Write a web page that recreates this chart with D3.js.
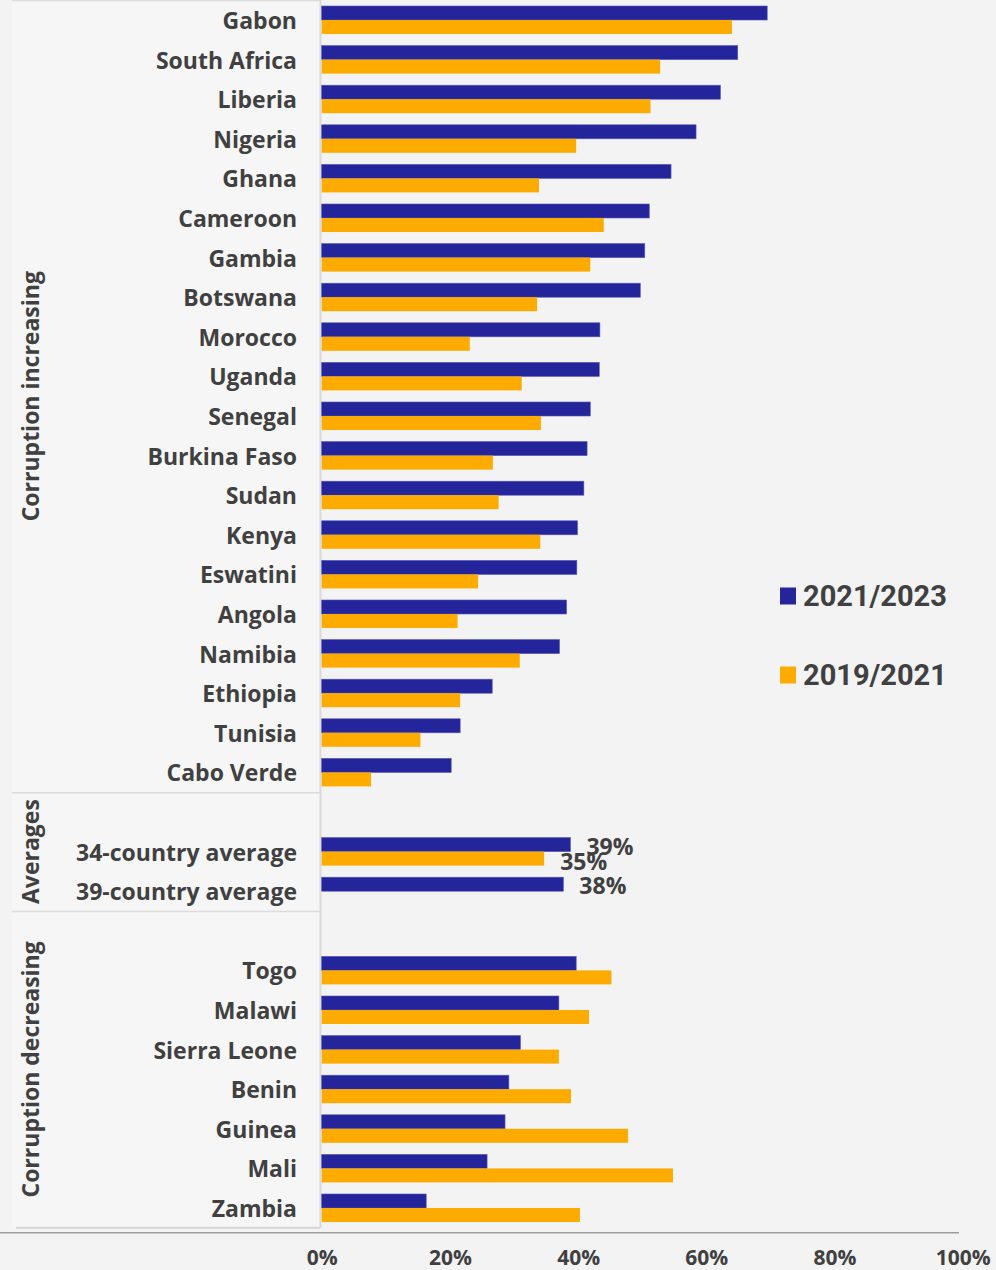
<!DOCTYPE html>
<html>
<head>
<meta charset="utf-8">
<script src="https://cdn.jsdelivr.net/npm/d3@7"></script>
<style>
  html, body { margin: 0; padding: 0; background: #f3f3f3; }
  svg { display: block; }
</style>
</head>
<body>
<svg id="chart" width="996" height="1270"></svg>
<script>
// ---- Data ----
const increasingCountries = ["Gabon","South Africa","Liberia","Nigeria","Ghana","Cameroon","Gambia","Botswana","Morocco","Uganda","Senegal","Burkina Faso","Sudan","Kenya","Eswatini","Angola","Namibia","Ethiopia","Tunisia","Cabo Verde"];
const increasing2123 = [69.5,64.9,62.2,58.4,54.5,51.1,50.4,49.7,43.4,43.3,41.9,41.4,40.9,39.9,39.8,38.2,37.1,26.6,21.6,20.2];
const increasing1921 = [64.0,52.8,51.3,39.7,33.9,44.0,41.9,33.6,23.1,31.2,34.2,26.7,27.6,34.1,24.4,21.2,30.9,21.6,15.4,7.7];

const averageLabels = ["34-country average","39-country average"];
const average2123 = [38.8, 37.7];
const average1921 = [34.7, null];
const average2123Text = ["39%","38%"];
const average1921Text = ["35%", null];

const decreasingCountries = ["Togo","Malawi","Sierra Leone","Benin","Guinea","Mali","Zambia"];
const decreasing2123 = [39.7,37.0,31.0,29.2,28.6,25.8,16.3];
const decreasing1921 = [45.2,41.7,37.0,38.9,47.8,54.8,40.3];

const groupNames = ["Corruption increasing","Averages","Corruption decreasing"];
const seriesNames = ["2021/2023","2019/2021"];
const seriesColors = ["#25259b","#feab00"];
const tickValues = [0,20,40,60,80,100];
const tickLabels = ["0%","20%","40%","60%","80%","100%"];

// ---- Build rows ----
const rows = [];
increasingCountries.forEach((c,i)=>rows.push({key:c,label:c,v1:increasing2123[i],v2:increasing1921[i]}));
rows.push({key:"_gap1",label:"",v1:null,v2:null});
averageLabels.forEach((c,i)=>rows.push({key:c,label:c,v1:average2123[i],v2:average1921[i],t1:average2123Text[i],t2:average1921Text[i]}));
rows.push({key:"_gap2",label:"",v1:null,v2:null});
decreasingCountries.forEach((c,i)=>rows.push({key:c,label:c,v1:decreasing2123[i],v2:decreasing1921[i]}));

const svg = d3.select("#chart");
const labelFont = "'Open Sans', 'Lato', sans-serif";
const textColor = "#404040";
const labelSize = 23;

const x = d3.scaleLinear().domain([0,100]).range([321.7, 962.7]);
const y = d3.scaleBand().domain(rows.map(r=>r.key)).range([0.2, 1227.8]);
const step = y.step();
const barH = 14;

// ---- Group panel lines ----
const panelLeft = 12, panelRight = 320;
const sep1 = y("_gap1"), sep2 = y("_gap2"), bottom = y.range()[1];
const groupBounds = [[y.range()[0], sep1],[sep1, sep2],[sep2, bottom]];

const panel = svg.append("g");
panel.append("rect").attr("x", panelLeft).attr("y", 0).attr("width", panelRight-panelLeft).attr("height", bottom)
  .attr("fill", "#f6f6f6");
[0, sep1, sep2].forEach(v=>{
  panel.append("line").attr("x1", panelLeft).attr("x2", panelRight).attr("y1", v+0.5).attr("y2", v+0.5)
    .attr("stroke", "#dcdcdc").attr("stroke-width", 1.5);
});
panel.append("line").attr("x1", panelLeft+4).attr("x2", panelRight).attr("y1", bottom).attr("y2", bottom)
  .attr("stroke", "#d6d6d6").attr("stroke-width", 2);
// vertical axis line
svg.append("line").attr("x1", 320.5).attr("x2", 320.5).attr("y1", 0).attr("y2", bottom)
  .attr("stroke", "#dadada").attr("stroke-width", 2);

// group labels (rotated)
groupNames.forEach((g,i)=>{
  const cy = (groupBounds[i][0] + groupBounds[i][1]) / 2;
  svg.append("text").attr("transform", `translate(30,${cy}) rotate(-90)`)
    .attr("text-anchor","middle").attr("dominant-baseline","central")
    .attr("font-family", labelFont).attr("font-weight", 700).attr("font-size", labelSize)
    .attr("fill", textColor).text(g);
});

// ---- Bars ----
const bars = svg.append("g");
rows.forEach(r=>{
  const cy = y(r.key) + step/2;
  if (r.v1 != null) {
    bars.append("rect").attr("x", x(0)).attr("y", cy - barH).attr("width", x(r.v1)-x(0)).attr("height", barH)
      .attr("fill", seriesColors[0]).attr("stroke", "#5454b4").attr("stroke-width", 0.6);
  }
  if (r.v2 != null) {
    bars.append("rect").attr("x", x(0)).attr("y", cy).attr("width", x(r.v2)-x(0)).attr("height", barH)
      .attr("fill", seriesColors[1]);
  }
});

// ---- Category labels ----
svg.append("g").selectAll("text").data(rows.filter(r=>r.label)).join("text")
  .attr("x", 297).attr("y", r=>y(r.key)+step/2)
  .attr("text-anchor","end").attr("dominant-baseline","central")
  .attr("font-family", labelFont).attr("font-weight", 700).attr("font-size", labelSize)
  .attr("fill", textColor).text(r=>r.label);

// ---- Value labels for averages ----
rows.filter(r=>r.t1).forEach(r=>{
  const cy = y(r.key) + step/2;
  svg.append("text").attr("x", x(r.v1)+16).attr("y", cy - barH/2 + 1)
    .attr("dominant-baseline","central").attr("font-family", labelFont).attr("font-weight", 700)
    .attr("font-size", labelSize).attr("fill", textColor).text(r.t1);
  if (r.t2) {
    svg.append("text").attr("x", x(r.v2)+16).attr("y", cy + barH/2 + 2)
      .attr("dominant-baseline","central").attr("font-family", labelFont).attr("font-weight", 700)
      .attr("font-size", labelSize).attr("fill", textColor).text(r.t2);
  }
});

// ---- X axis ----
const axisY = 1232.7;
svg.append("line").attr("x1", 0).attr("x2", 959).attr("y1", axisY).attr("y2", axisY)
  .attr("stroke", "#9e9e9e").attr("stroke-width", 1.5);
const axis = d3.axisBottom(x).tickValues(tickValues).tickSize(0).tickPadding(0)
  .tickFormat((d,i)=>tickLabels[i]);
const axG = svg.append("g").attr("transform", `translate(0,1257)`).call(axis);
axG.select(".domain").remove();
axG.selectAll("text").attr("dy", null).attr("dominant-baseline","central")
  .attr("font-family", labelFont).attr("font-weight", 700).attr("font-size", 21).attr("fill", textColor);

// ---- Legend ----
const legendY = [596, 675];
seriesNames.forEach((s,i)=>{
  svg.append("rect").attr("x", 780).attr("y", legendY[i]-8.5).attr("width", 16).attr("height", 17)
    .attr("fill", seriesColors[i]);
  svg.append("text").attr("x", 803).attr("y", legendY[i]).attr("dominant-baseline","central")
    .attr("font-family", "Roboto, sans-serif").attr("font-weight", 700).attr("font-size", 29)
    .attr("fill", textColor).text(s);
});
</script>
</body>
</html>
